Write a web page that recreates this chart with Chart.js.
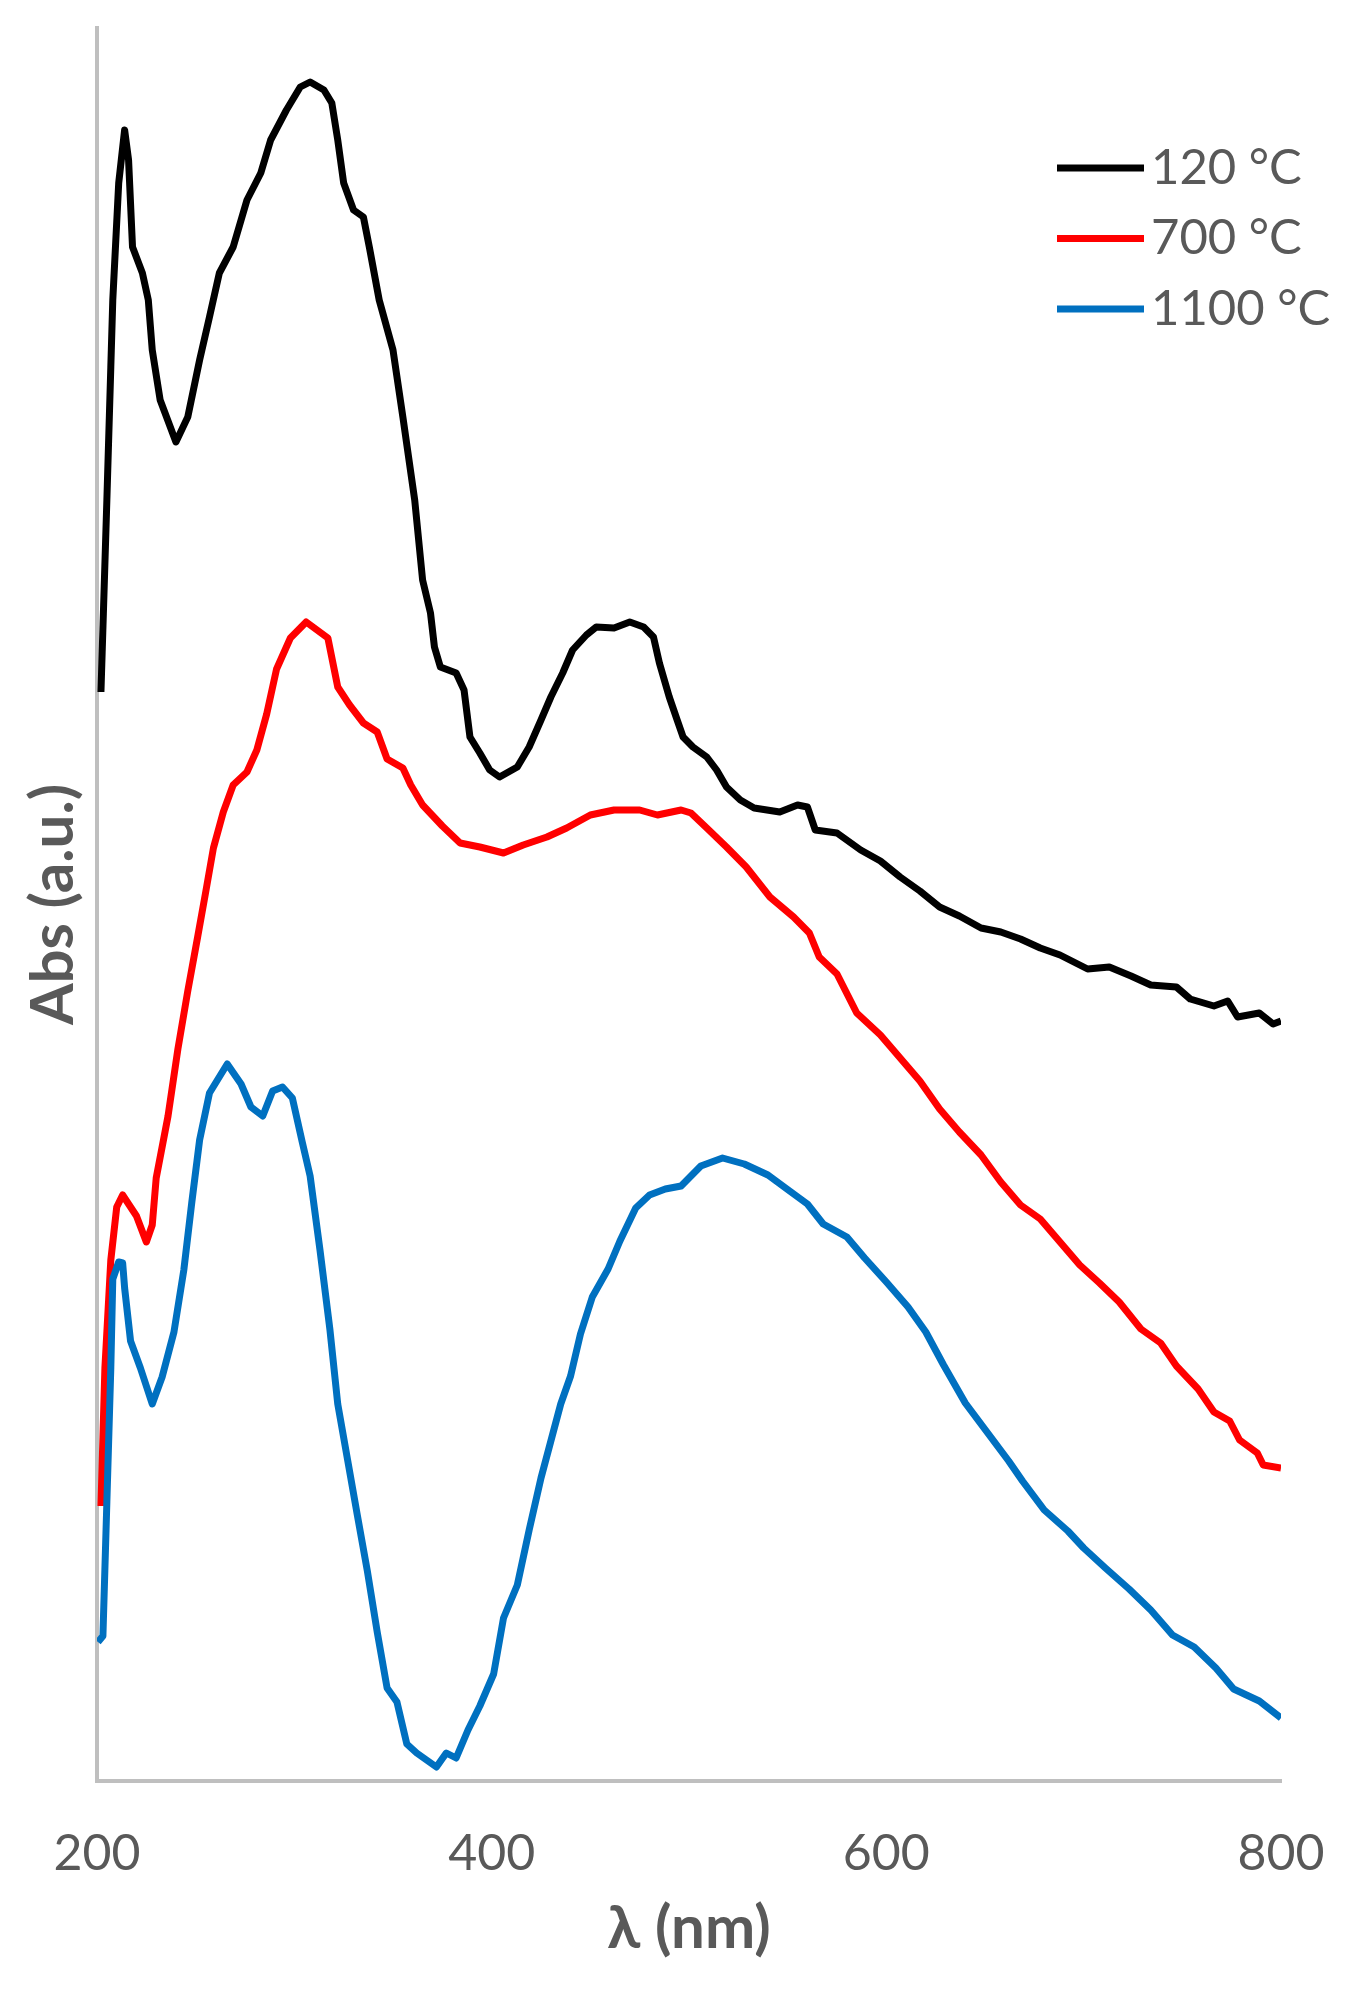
<!DOCTYPE html>
<html>
<head>
<meta charset="utf-8">
<title>Abs vs wavelength</title>
<script src="https://cdn.jsdelivr.net/npm/chart.js@4.4.0/dist/chart.umd.min.js"></script>
<style>
  html, body { margin: 0; padding: 0; background: #fff; }
  #wrap { position: relative; width: 1357px; height: 1989px; }
</style>
</head>
<body>
<div id="wrap"><canvas id="absChart"></canvas></div>
<script>
// values: wavelength (nm) and absorbance (a.u.)
const wl120 = [202, 205, 207, 208, 211, 214, 216, 218, 223, 226, 228, 232, 240, 246, 252, 257, 262, 269, 276, 283, 288, 296, 303, 308, 315, 319, 322, 325, 330, 335, 338, 343, 350, 355, 361, 365, 369, 371, 374, 382, 386, 389, 394, 399, 404, 413, 419, 425, 430, 436, 441, 448, 453, 462, 470, 477, 482, 485, 490, 494, 497, 502, 509, 514, 519, 526, 533, 546, 555, 560, 564, 575, 587, 597, 607, 617, 627, 637, 648, 658, 668, 678, 688, 702, 713, 724, 734, 747, 754, 766, 773, 778, 789, 796, 800];
const abs120 = [1.089, 1.281, 1.414, 1.481, 1.598, 1.651, 1.621, 1.534, 1.508, 1.481, 1.431, 1.381, 1.339, 1.364, 1.421, 1.464, 1.508, 1.534, 1.581, 1.608, 1.641, 1.671, 1.694, 1.699, 1.691, 1.678, 1.641, 1.598, 1.571, 1.564, 1.534, 1.481, 1.431, 1.364, 1.281, 1.201, 1.168, 1.134, 1.114, 1.108, 1.091, 1.044, 1.028, 1.011, 1.004, 1.014, 1.034, 1.061, 1.084, 1.108, 1.131, 1.146, 1.154, 1.153, 1.159, 1.154, 1.144, 1.118, 1.084, 1.061, 1.044, 1.034, 1.024, 1.011, 0.994, 0.981, 0.973, 0.969, 0.976, 0.974, 0.951, 0.948, 0.931, 0.920, 0.904, 0.890, 0.874, 0.865, 0.853, 0.849, 0.842, 0.833, 0.826, 0.812, 0.814, 0.805, 0.796, 0.794, 0.782, 0.775, 0.780, 0.764, 0.768, 0.757, 0.760];

const wl700 = [202, 204, 207, 210, 213, 220, 225, 228, 230, 236, 241, 246, 251, 255, 259, 264, 269, 276, 281, 286, 291, 298, 306, 317, 322, 328, 335, 342, 347, 355, 359, 365, 375, 384, 394, 406, 416, 428, 438, 450, 462, 475, 484, 496, 501, 509, 519, 529, 541, 553, 561, 566, 575, 585, 597, 607, 617, 627, 637, 648, 658, 668, 678, 688, 698, 708, 718, 729, 739, 747, 758, 766, 774, 779, 788, 791, 800];
const abs700 = [0.275, 0.413, 0.521, 0.574, 0.586, 0.565, 0.539, 0.556, 0.603, 0.665, 0.732, 0.790, 0.844, 0.888, 0.933, 0.969, 0.996, 1.009, 1.031, 1.067, 1.112, 1.143, 1.159, 1.143, 1.094, 1.076, 1.058, 1.049, 1.022, 1.013, 0.996, 0.976, 0.955, 0.938, 0.934, 0.928, 0.936, 0.944, 0.953, 0.966, 0.971, 0.971, 0.966, 0.971, 0.968, 0.953, 0.934, 0.914, 0.884, 0.864, 0.848, 0.824, 0.807, 0.768, 0.746, 0.723, 0.700, 0.672, 0.649, 0.626, 0.599, 0.576, 0.562, 0.539, 0.516, 0.498, 0.479, 0.452, 0.438, 0.415, 0.392, 0.369, 0.360, 0.341, 0.328, 0.316, 0.313];

const wl1100 = [200.5, 203, 205, 207, 208, 211, 213, 214, 217, 222, 228, 233, 239, 244, 248, 252, 257, 266, 273, 278, 284, 289, 294, 299, 304, 308, 313, 318, 322, 327, 332, 337, 342, 347, 352, 357, 362, 367, 372, 377, 382, 388, 394, 401, 406, 413, 419, 425, 430, 435, 440, 445, 451, 459, 465, 473, 480, 488, 496, 506, 517, 528, 540, 551, 560, 568, 580, 589, 600, 611, 620, 629, 640, 651, 662, 669, 680, 692, 700, 711, 723, 734, 745, 756, 767, 776, 789, 800];
const abs1100 = [0.139, 0.145, 0.279, 0.413, 0.502, 0.519, 0.518, 0.493, 0.440, 0.413, 0.377, 0.404, 0.449, 0.511, 0.578, 0.641, 0.688, 0.717, 0.697, 0.674, 0.665, 0.690, 0.694, 0.683, 0.639, 0.605, 0.531, 0.452, 0.377, 0.321, 0.265, 0.210, 0.149, 0.093, 0.079, 0.037, 0.028, 0.021, 0.014, 0.028, 0.023, 0.051, 0.075, 0.107, 0.163, 0.196, 0.251, 0.303, 0.340, 0.377, 0.405, 0.447, 0.484, 0.512, 0.540, 0.573, 0.586, 0.592, 0.595, 0.615, 0.623, 0.617, 0.606, 0.590, 0.577, 0.557, 0.544, 0.523, 0.499, 0.474, 0.449, 0.416, 0.378, 0.349, 0.320, 0.300, 0.271, 0.250, 0.233, 0.213, 0.192, 0.171, 0.146, 0.134, 0.113, 0.092, 0.080, 0.063];

const xTicks = [200, 400, 600, 800];
const seriesLabels = ['120 °C', '700 °C', '1100 °C'];
const seriesColors = ['#000000', '#FF0000', '#0070C0'];

const textGray = '#595959';
const axisGray = '#BFBFBF';
const lineW = 7;

function toPoints(xs, ys) {
    return xs.map((x, i) => ({ x: x, y: ys[i] }));
}

// legend in the top right corner, line + label per series
const cornerLegend = {
    id: 'cornerLegend',
    afterDraw(chart, args, opts) {
        const ctx = chart.ctx;
        ctx.save();
        chart.data.datasets.forEach((ds, i) => {
            const y = opts.top + i * opts.rowGap;
            ctx.strokeStyle = ds.borderColor;
            ctx.lineWidth = ds.borderWidth;
            ctx.beginPath();
            ctx.moveTo(opts.left, y);
            ctx.lineTo(opts.left + opts.lineLength, y);
            ctx.stroke();
            ctx.fillStyle = textGray;
            ctx.font = opts.font;
            ctx.textBaseline = 'middle';
            ctx.textAlign = 'left';
            ctx.fillText(ds.label, opts.left + opts.lineLength + opts.gap, y);
        });
        ctx.restore();
    }
};

const ctx = document.getElementById('absChart').getContext('2d');
new Chart(ctx, {
    type: 'line',
    data: {
        datasets: [
            { label: seriesLabels[0], data: toPoints(wl120, abs120), borderColor: seriesColors[0], borderWidth: lineW, order: 2 },
            { label: seriesLabels[1], data: toPoints(wl700, abs700), borderColor: seriesColors[1], borderWidth: lineW, order: 1 },
            { label: seriesLabels[2], data: toPoints(wl1100, abs1100), borderColor: seriesColors[2], borderWidth: lineW, order: 0 }
        ]
    },
    options: {
        responsive: true,
        maintainAspectRatio: false,
        animation: false,
        devicePixelRatio: 1,
        layout: { padding: { top: 28, right: 76, bottom: 0, left: 0 } },
        elements: {
            line: { tension: 0, fill: false, borderJoinStyle: 'round', borderCapStyle: 'butt' },
            point: { radius: 0, hoverRadius: 0 }
        },
        plugins: {
            legend: { display: false },
            tooltip: { enabled: false },
            cornerLegend: {
                left: 1057, top: 168, rowGap: 70.5, lineLength: 87, gap: 7,
                font: '49px Lato, "Liberation Sans", sans-serif'
            }
        },
        scales: {
            x: {
                type: 'linear',
                min: 200,
                max: 800,
                afterBuildTicks: scale => { scale.ticks = xTicks.map(v => ({ value: v })); },
                afterFit: scale => {
                    scale.height = 208;
                    // end labels fit in the margins, keep the plot edges fixed
                    scale.paddingLeft = 0;
                    scale.paddingRight = 0;
                },
                grid: { display: false, drawTicks: false, tickLength: 0 },
                border: { display: true, color: axisGray, width: 4 },
                ticks: {
                    color: textGray,
                    padding: 43,
                    maxRotation: 0,
                    font: { family: 'Lato, "Liberation Sans", sans-serif', size: 50 }
                },
                title: {
                    display: true,
                    text: 'λ (nm)',
                    color: textGray,
                    padding: { top: 0, bottom: 24 },
                    font: { family: 'Lato, "DejaVu Sans", sans-serif', size: 60, weight: 'bold' }
                }
            },
            y: {
                min: 0,
                max: 1.753,
                afterFit: scale => { scale.width = 97; },
                grid: { display: false, drawTicks: false, tickLength: 0 },
                border: { display: true, color: axisGray, width: 4 },
                ticks: { display: false },
                title: {
                    display: true,
                    text: 'Abs (a.u.)',
                    color: textGray,
                    padding: { top: 18, bottom: 0 },
                    font: { family: 'Lato, "Liberation Sans", sans-serif', size: 60, weight: 'bold' }
                }
            }
        }
    },
    plugins: [cornerLegend]
});
</script>
</body>
</html>
